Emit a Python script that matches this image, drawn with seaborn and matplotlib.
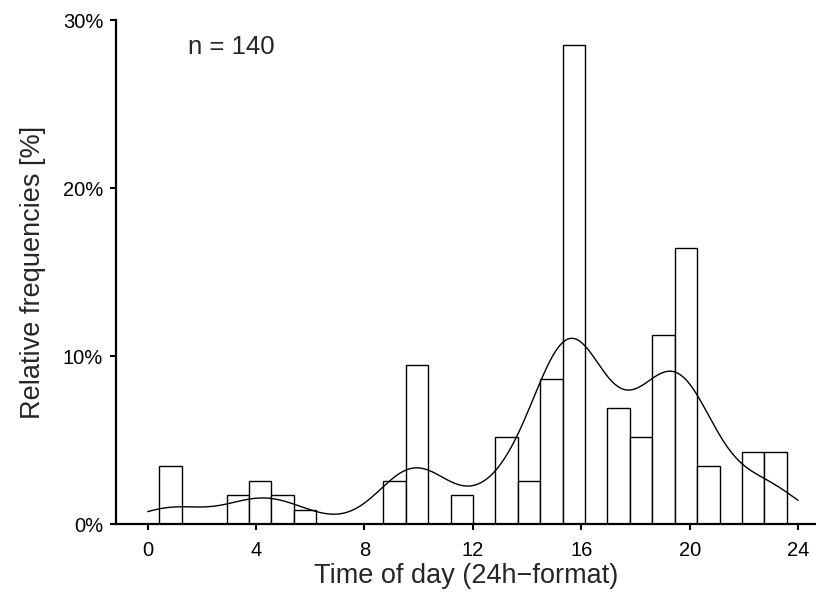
import numpy as np
import matplotlib
matplotlib.use("Agg")
import matplotlib.pyplot as plt
from matplotlib.ticker import FuncFormatter
import seaborn as sns

# histogram: 28 bins between first and last bar edge
bin_lo = 0.43
bin_hi = 23.58
n_bins = 28
bin_counts = [4, 0, 0, 2, 3, 2, 1, 0, 0, 0, 3, 11, 0, 2,
              0, 6, 3, 10, 33, 0, 8, 6, 13, 19, 4, 0, 5, 5]
x_ticks = [0, 4, 8, 12, 16, 20, 24]
y_ticks = [0, 0.1, 0.2, 0.3]
n_label = "n = 140"

# rebuild observations at bin centres
edges = np.linspace(bin_lo, bin_hi, n_bins + 1)
centres = (edges[:-1] + edges[1:]) / 2
times = np.repeat(centres, bin_counts)

sns.set_style("ticks")
plt.rcParams["font.family"] = ["Liberation Sans", "DejaVu Sans"]

fig = plt.figure(figsize=(8.16, 5.92), dpi=100)
ax = fig.add_axes([0.1418, 0.1144, 0.8582, 0.8518])

sns.histplot(x=times, bins=n_bins, binrange=(bin_lo, bin_hi), stat="density",
             color="white", edgecolor="black", linewidth=1.0, alpha=1, ax=ax)
sns.kdeplot(x=times, bw_adjust=0.64, cut=3, clip=(0, 24),
            color="black", linewidth=1.0, ax=ax)

ax.set_xlim(-1.18, 24.66)
ax.set_ylim(0, 0.30)
ax.set_xticks(x_ticks)
ax.set_yticks(y_ticks)
ax.yaxis.set_major_formatter(FuncFormatter(lambda v, p: f"{v * 100:.0f}%"))
ax.tick_params(direction="out", length=4, width=1.5, labelsize=14.5, pad=5,
               colors="black")
ax.tick_params(axis="x", pad=8)
for s in ["top", "right"]:
    ax.spines[s].set_visible(False)
for s in ["left", "bottom"]:
    ax.spines[s].set_linewidth(1.6)
    ax.spines[s].set_color("black")

ax.set_xlabel("Time of day (24h\u2212format)", fontsize=19.5, labelpad=2.5)
ax.set_ylabel("Relative frequencies [%]", fontsize=19.5, labelpad=12)
ax.text(1.5, 0.284, n_label, fontsize=18.5, ha="left", va="center")

fig.savefig("out.png", dpi=100)
